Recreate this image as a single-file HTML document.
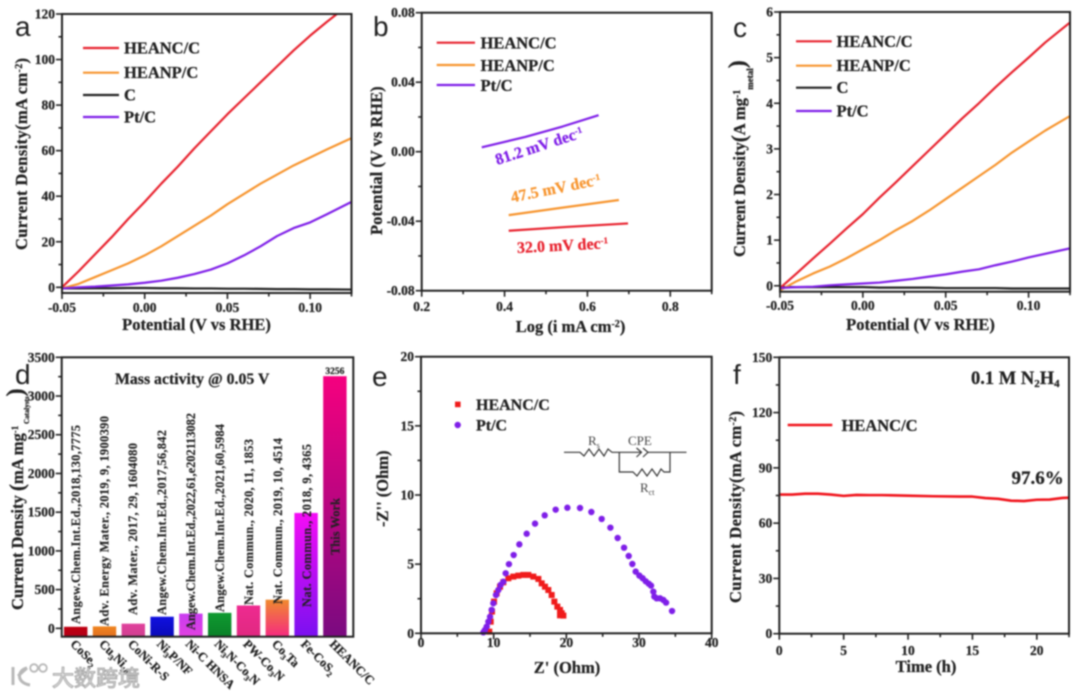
<!DOCTYPE html>
<html lang="en">
<head>
<meta charset="utf-8">
<title>HEANC/C electrocatalysis figure</title>
<style>
html,body{margin:0;padding:0;background:#fff;}
body{width:1080px;height:695px;overflow:hidden;}
#fig{display:block;filter:blur(0.7px);font-family:"Liberation Serif","Noto Serif CJK SC",serif;}
#fig text{font-weight:bold;fill:#222;stroke:#222;stroke-width:0.25px;}
#fig .tick{font-size:13.5px;}
#fig .title{font-size:16.5px;}
#fig .legend{font-size:16.5px;}
#fig .letter{font-family:"Liberation Sans",sans-serif;font-weight:normal;font-size:28px;stroke-width:0;}
#fig .cite{font-size:12.5px;stroke-width:0.15px;}
#fig .cat{font-size:12.5px;}
#fig .circ{font-weight:normal;font-size:13px;fill:#444;stroke-width:0;}
</style>
</head>
<body>
<svg id="fig" width="1080" height="695" viewBox="0 0 1080 695" xmlns="http://www.w3.org/2000/svg">
  <defs id="defs"></defs>
  <rect x="0" y="0" width="1080" height="695" fill="#fff"/>
  <g id="marks"></g>

  <!-- panel letters -->
  <text class="letter" x="15" y="36">a</text>
  <text class="letter" x="373" y="36">b</text>
  <text class="letter" x="733" y="37">c</text>
  <text class="letter" x="15" y="384">d</text>
  <text class="letter" x="372" y="386">e</text>
  <text class="letter" x="733" y="384">f</text>

  <!-- axis titles -->
  <text class="title" x="196.5" y="330" text-anchor="middle">Potential (V vs RHE)</text>
  <text class="title" transform="translate(27,250) rotate(-90)" letter-spacing="0.35">Current Density(mA cm<tspan font-size="10" dy="-5">-2</tspan><tspan dy="5">)</tspan></text>

  <text class="title" x="570.5" y="332" text-anchor="middle">Log (i mA cm<tspan font-size="10" dy="-5">-2</tspan><tspan dy="5">)</tspan></text>
  <text class="title" transform="translate(382,235) rotate(-90)">Potential (V vs RHE)</text>

  <text class="title" x="920.5" y="330" text-anchor="middle">Potential (V vs RHE)</text>
  <text class="title" transform="translate(745,257) rotate(-90)">Current Density<tspan font-size="21" dy="1">(</tspan><tspan dy="-1">A mg</tspan><tspan font-size="10" dy="-5">-1</tspan><tspan font-size="9" dy="13">metal</tspan><tspan font-size="24" dy="-8">)</tspan></text>

  <text class="title" transform="translate(23,610) rotate(-90)">Current Density <tspan font-size="21" dy="1">(</tspan><tspan dy="-1">mA mg</tspan><tspan font-size="9" dy="-5">-1</tspan><tspan font-size="7" dy="11"> Catalysts</tspan><tspan font-size="24" dy="-6">)</tspan></text>

  <text class="title" x="567" y="673" text-anchor="middle">Z' (Ohm)</text>
  <text class="title" transform="translate(388,527) rotate(-90)">-Z'' (Ohm)</text>

  <text class="title" x="926" y="672" text-anchor="middle">Time (h)</text>
  <text class="title" transform="translate(741,603) rotate(-90)" letter-spacing="0.35">Current Density(mA cm<tspan font-size="10" dy="-5">-2</tspan><tspan dy="5">)</tspan></text>

  <!-- legends -->
  <g>
    <line x1="83" y1="48" x2="119" y2="48" stroke="#e8232f" stroke-width="2.2"/>
    <text class="legend" x="124" y="53.5">HEANC/C</text>
    <line x1="83" y1="72.7" x2="119" y2="72.7" stroke="#f7952f" stroke-width="2.2"/>
    <text class="legend" x="124" y="78">HEANP/C</text>
    <line x1="83" y1="95" x2="119" y2="95" stroke="#222" stroke-width="2.2"/>
    <text class="legend" x="124" y="100.5">C</text>
    <line x1="83" y1="117" x2="119" y2="117" stroke="#7f1fe8" stroke-width="2.2"/>
    <text class="legend" x="124" y="122.5">Pt/C</text>
  </g>
  <g>
    <line x1="436.7" y1="42.7" x2="475" y2="42.7" stroke="#e8232f" stroke-width="2.2"/>
    <text class="legend" x="480.5" y="48.5">HEANC/C</text>
    <line x1="436.7" y1="65" x2="475" y2="65" stroke="#f7952f" stroke-width="2.2"/>
    <text class="legend" x="480.5" y="71">HEANP/C</text>
    <line x1="436.7" y1="85" x2="475" y2="85" stroke="#7f1fe8" stroke-width="2.2"/>
    <text class="legend" x="480.5" y="91">Pt/C</text>
  </g>
  <g>
    <line x1="796" y1="41.3" x2="831.7" y2="41.3" stroke="#e8232f" stroke-width="2.2"/>
    <text class="legend" x="836.5" y="47">HEANC/C</text>
    <line x1="796" y1="65.7" x2="831.7" y2="65.7" stroke="#f7952f" stroke-width="2.2"/>
    <text class="legend" x="836.5" y="71">HEANP/C</text>
    <line x1="796" y1="87.7" x2="831.7" y2="87.7" stroke="#222" stroke-width="2.2"/>
    <text class="legend" x="836.5" y="93">C</text>
    <line x1="796" y1="111" x2="831.7" y2="111" stroke="#7f1fe8" stroke-width="2.2"/>
    <text class="legend" x="836.5" y="116.5">Pt/C</text>
  </g>
  <g>
    <rect x="455" y="401.6" width="5.6" height="5.6" fill="#f01b1b"/>
    <text class="legend" x="476" y="410" style="font-size:16px">HEANC/C</text>
    <circle cx="457.7" cy="425" r="3.2" fill="#7f1fe8"/>
    <text class="legend" x="476" y="430.5" style="font-size:16px">Pt/C</text>
  </g>
  <g>
    <line x1="787.7" y1="425" x2="832.3" y2="425" stroke="#f0141c" stroke-width="2.6"/>
    <text class="legend" x="841.5" y="431">HEANC/C</text>
  </g>

  <!-- panel b slope annotations -->
  <text transform="translate(517.3,253) rotate(-3)" font-size="16" style="fill:#e8232f;stroke:#e8232f">32.0 mV dec<tspan font-size="9" dy="-5">-1</tspan></text>
  <text transform="translate(512,202.5) rotate(-11.5)" font-size="16" style="fill:#f7952f;stroke:#f7952f">47.5 mV dec<tspan font-size="9" dy="-5">-1</tspan></text>
  <text transform="translate(497.3,165) rotate(-18)" font-size="16" style="fill:#7f1fe8;stroke:#7f1fe8">81.2 mV dec<tspan font-size="9" dy="-5">-1</tspan></text>

  <!-- panel d static labels -->
  <text x="115" y="384" font-size="15.8">Mass activity @ 0.05 V</text>
  <g>
    <text class="cite" transform="translate(80,624) rotate(-90)" textLength="199">Angew.Chem.Int.Ed.,2018,130,7775</text>
    <text class="cite" transform="translate(108.5,626) rotate(-90)" textLength="210">Adv. Energy Mater., 2019, 9, 1900390</text>
    <text class="cite" transform="translate(137,615) rotate(-90)" textLength="172">Adv. Mater., 2017, 29, 1604080</text>
    <text class="cite" transform="translate(166,615) rotate(-90)" textLength="185">Angew.Chem.Int.Ed.,2017,56,842</text>
    <text class="cite" transform="translate(195,630) rotate(-90)" textLength="217">Angew.Chem.Int.Ed.,2022,61,e202113082</text>
    <text class="cite" transform="translate(224,612) rotate(-90)" textLength="188">Angew.Chem.Int.Ed.,2021,60,5984</text>
    <text class="cite" transform="translate(253,605) rotate(-90)" textLength="166">Nat. Commun., 2020, 11, 1853</text>
    <text class="cite" transform="translate(282,604) rotate(-90)" textLength="166">Nat. Commun., 2019, 10, 4514</text>
    <text class="cite" transform="translate(311,607) rotate(-90)" textLength="163">Nat. Commun., 2018,  9, 4365</text>
    <text class="cite" transform="translate(339.5,555) rotate(-90)" textLength="57">This Work</text>
  </g>

  <!-- panel e equivalent circuit -->
  <g fill="none" stroke="#333" stroke-width="1.2">
    <polyline points="564,452.3 580,452.3 584,456 589,449 594,456 599,449 604,456 608,449 612,452.3 641,452.3"/>
    <polyline points="636.5,448 641.5,452.3 636.5,457"/>
    <polyline points="643,448 648,452.3 643,457"/>
    <polyline points="648,452.3 686.5,452.3"/>
    <polyline points="619.3,452.3 619.3,472 633,472 637,476 642,469 647,476 652,469 657,476 661,469 664,472 670,472 670,452.3"/>
  </g>
  <text class="circ" x="588" y="445">R<tspan font-size="8" dy="3">s</tspan></text>
  <text class="circ" x="628" y="445">CPE</text>
  <text class="circ" x="640" y="492">R<tspan font-size="8" dy="3">ct</tspan></text>

  <!-- panel f annotations -->
  <text x="971" y="384" font-size="18.5">0.1 M N<tspan font-size="11" dy="3">2</tspan><tspan dy="-3">H</tspan><tspan font-size="11" dy="3">4</tspan></text>
  <text x="1011.5" y="484" font-size="19">97.6%</text>

  <!-- watermark -->
  <g>
    <path d="M13 667 V685 M27 668 C17 670 16 683 30 685 M18 676 L27 668" fill="none" stroke="#b8b8b8" stroke-width="3"/>
    <circle cx="34" cy="668" r="3.8" fill="#fff" stroke="#b8b8b8" stroke-width="1.8"/>
    <circle cx="43" cy="668" r="3.8" fill="#fff" stroke="#b8b8b8" stroke-width="1.8"/>
    <text x="52" y="686" font-size="22" style="font-family:'Liberation Sans','Noto Sans CJK SC',sans-serif;font-weight:normal;fill:#efefef;stroke:#a8a8a8;stroke-width:1">大数跨境</text>
  </g>
</svg>

<script>
/* ---------- panel a data ---------- */
const potential = [-0.05,-0.04,-0.03,-0.02,-0.01,0,0.01,0.02,0.03,0.04,0.05,0.06,0.07,0.08,0.09,0.10,0.11,0.125];
const aHeanc = [0,7,14.5,22,30,37.5,45.5,53,61,68.5,76,83,90,97,104,110.5,116.5,125];
const aHeanp = [-0.5,1.5,4.5,7.5,10.5,14,18,22.5,27,31.5,36.5,41,45.5,49.5,53.5,57,60.5,65.5];
const aCarbon = [-0.5,-0.5,-0.4,-0.4,-0.3,-0.3,-0.4,-0.4,-0.5,-0.5,-0.6,-0.6,-0.7,-0.8,-0.8,-0.9,-0.9,-1];
const aPt = [-0.5,0,0.3,0.8,1.3,2,2.9,4.2,5.8,7.8,10.5,14,18,22.5,26,28.5,32,37.5];
const aXTicks = ['-0.05','0.00','0.05','0.10'];
const aYTicks = ['0','20','40','60','80','100','120'];

/* ---------- panel b data ---------- */
const bHeancX = [0.41,0.55,0.698];
const bHeancY = [-0.0455,-0.0433,-0.0413];
const bHeanpX = [0.41,0.54,0.676];
const bHeanpY = [-0.0365,-0.0322,-0.0278];
const bPtX = [0.345,0.45,0.54,0.627];
const bPtY = [0.0025,0.0085,0.0145,0.021];
const bXTicks = ['0.2','0.4','0.6','0.8'];
const bYTicks = ['-0.08','-0.04','0.00','0.04','0.08'];

/* ---------- panel c data ---------- */
const cHeanc = [-0.05,0.27,0.6,0.92,1.25,1.57,1.93,2.27,2.62,2.97,3.32,3.67,4.0,4.35,4.68,5.0,5.33,5.77];
const cHeanp = [-0.1,0.1,0.27,0.42,0.6,0.8,1.0,1.22,1.42,1.65,1.9,2.15,2.4,2.65,2.92,3.16,3.4,3.72];
const cCarbon = [-0.03,-0.03,-0.03,-0.03,-0.03,-0.03,-0.04,-0.04,-0.04,-0.04,-0.05,-0.05,-0.05,-0.05,-0.06,-0.06,-0.06,-0.06];
const cPt = [-0.05,-0.03,-0.02,0.01,0.03,0.05,0.07,0.11,0.15,0.2,0.25,0.31,0.36,0.45,0.53,0.62,0.7,0.82];
const cXTicks = ['-0.05','0.00','0.05','0.10'];
const cYTicks = ['0','1','2','3','4','5','6'];

/* ---------- panel d data ---------- */
const dCategories = ['CoSe_2','Cu_3Ni_10','CoNi-R-S','Ni_3P/NF','Ni-C HNSA','Ni_3N-Co_3N','PW-Co_3N','Co_3Ta','Fe-CoS_2','HEANC/C'];
const dValues = [20,25,60,150,190,200,295,370,1490,3256];
const dPrinted = ['3256'];
const dYTicks = ['0','500','1000','1500','2000','2500','3000','3500'];
const dBarColorsTop = ['#c00010','#f0851f','#e0409c','#1010e0','#c93cf0','#0f9a30','#ee2a90','#f08a2e','#f50cf5','#f5007f'];
const dBarColorsBottom = ['#b00018','#e07020','#d04090','#0a0ab8','#e040e0','#0a8028','#e02880','#f52a80','#7a10f0','#7a0a80'];

/* ---------- panel e data ---------- */
const eHeancX = [9.4,9.59,9.77,10.05,10.41,10.87,11.33,12.02,12.71,13.39,14.08,14.77,15.46,16.15,16.61,17.06,17.52,17.98,18.35,18.76,19.13,19.36,19.59,19.13];
const eHeancY = [0.12,0.84,1.57,2.29,2.89,3.37,3.69,3.98,4.1,4.17,4.22,4.22,4.1,3.93,3.61,3.37,3.13,2.77,2.29,1.93,1.69,1.45,1.28,1.3];
const ePtX = [8.58,8.8,9.04,9.27,9.5,9.72,9.95,10.32,10.64,10.96,11.33,11.65,12.1,12.75,13.53,14.54,15.69,17.02,18.53,20.14,21.88,23.44,24.86,26.06,27.06,27.94,28.58,29.08,29.54,30.05,30.5,30.92,31.33,31.65,31.97,32.11,32.43,32.89,33.35,33.72,34.54];
const ePtY = [0.07,0.24,0.48,0.84,1.2,1.69,2.17,2.77,3.13,3.5,3.73,4.34,5.0,5.66,6.43,7.2,7.93,8.53,8.94,9.08,9.06,8.77,8.27,7.64,6.89,6.19,5.59,5.01,4.46,4.17,3.98,3.76,3.59,3.45,3.01,2.65,2.53,2.53,2.41,2.22,1.61];
const eXTicks = ['0','10','20','30','40'];
const eYTicks = ['0','5','10','15','20'];

/* ---------- panel f data ---------- */
const fTime = [0,1,2,3,4,5,6,7,8,10,12,14,15,16,17,18,19,20,21,22,22.5];
const fCurrent = [75.5,75.5,76,76,75.5,74.8,75.3,75.2,75.2,74.9,74.6,74.4,74.4,73.6,73.2,72.2,72,72.7,72.8,73.7,73.8];
const fXTicks = ['0','5','10','15','20'];
const fYTicks = ['0','30','60','90','120','150'];

/* ---------- drawing ---------- */
const NS = 'http://www.w3.org/2000/svg';
const marksLayer = document.getElementById('marks');
const defsEl = document.getElementById('defs');

function mk(tag, attrs, parent) {
  const el = document.createElementNS(NS, tag);
  for (const k in attrs) el.setAttribute(k, attrs[k]);
  (parent || marksLayer).appendChild(el);
  return el;
}
function scale(d0, d1, r0, r1) {
  return v => r0 + (v - d0) * (r1 - r0) / (d1 - d0);
}
function makePanel(id, l, r, t, b, xmin, xmax, ymin, ymax) {
  const clip = mk('clipPath', {id: 'clip-' + id}, defsEl);
  mk('rect', {x: l, y: t, width: r - l, height: b - t}, clip);
  return {id, l, r, t, b, x: scale(xmin, xmax, l, r), y: scale(ymin, ymax, b, t), xmin, xmax, ymin, ymax};
}
function tickRange(min, max, step) {
  const out = [];
  const first = Math.ceil(min / step - 1e-6);
  for (let i = first; i * step <= max + 1e-6; i++) out.push(i * step);
  return out;
}
function drawAxes(p, xStep, xMinor, xLabels, yStep, yMinor, yLabels, xLabelY) {
  const frame = mk('rect', {x: p.l, y: p.t, width: p.r - p.l, height: p.b - p.t, fill: 'none', stroke: '#222', 'stroke-width': 2});
  
  
  if (xStep) {
    tickRange(p.xmin, p.xmax, xMinor).forEach(v => {
      const major = Math.abs(v / xStep - Math.round(v / xStep)) < 1e-6;
      const tick = mk('line', {x1: p.x(v), x2: p.x(v), y1: p.b, y2: p.b + (major ? 6 : 3.5), stroke: '#222', 'stroke-width': 1.6});
      
      
    });
    xLabels.forEach(s => {
      const label = mk('text', {class: 'tick', x: p.x(parseFloat(s)), y: xLabelY, 'text-anchor': 'middle'});
      
      
      label.textContent = s;
    });
  }
  tickRange(p.ymin, p.ymax, yMinor).forEach(v => {
    const major = Math.abs(v / yStep - Math.round(v / yStep)) < 1e-6;
    const tick = mk('line', {x1: p.l - (major ? 6 : 3.5), x2: p.l, y1: p.y(v), y2: p.y(v), stroke: '#222', 'stroke-width': 1.6});
    
    
  });
  yLabels.forEach(s => {
    const label = mk('text', {class: 'tick', x: p.l - 7, y: p.y(parseFloat(s)) + 4.5, 'text-anchor': 'end'});
    
    
    label.textContent = s;
  });
}
function linePath(p, xs, ys) {
  return xs.map((x, i) => (i ? 'L' : 'M') + p.x(x).toFixed(2) + ' ' + p.y(ys[i]).toFixed(2)).join(' ');
}
function drawLine(p, xs, ys, color, width) {
  return mk('path', {d: linePath(p, xs, ys), fill: 'none', stroke: color, 'stroke-width': width, 'stroke-linejoin': 'round', 'clip-path': 'url(#clip-' + p.id + ')'});
}

const RED = '#e8232f', ORANGE = '#f7952f', PURPLE = '#7f1fe8', BLACK = '#222';

/* panel a */
const pa = makePanel('a', 62, 351.5, 14, 293, -0.05, 0.125, -2.5, 120);
const aL1 = drawLine(pa, potential, aCarbon, BLACK, 2.2);


const aL2 = drawLine(pa, potential, aHeanc, RED, 2.2);


const aL3 = drawLine(pa, potential, aHeanp, ORANGE, 2.2);


const aL4 = drawLine(pa, potential, aPt, PURPLE, 2.2);


drawAxes(pa, 0.05, 0.025, aXTicks, 20, 10, aYTicks, 312);

/* panel b */
const pb = makePanel('b', 421.7, 711.7, 12.7, 290.7, 0.2, 0.9, -0.08, 0.08);
const bL1 = drawLine(pb, bHeancX, bHeancY, RED, 2.2);


const bL2 = drawLine(pb, bHeanpX, bHeanpY, ORANGE, 2.2);


const bL3 = drawLine(pb, bPtX, bPtY, PURPLE, 2.2);


drawAxes(pb, 0.2, 0.1, bXTicks, 0.04, 0.02, bYTicks, 311);

/* panel c */
const pc = makePanel('c', 780, 1070, 12, 291.7, -0.05, 0.125, -0.13, 6);
const cL1 = drawLine(pc, potential, cCarbon, BLACK, 2.2);


const cL2 = drawLine(pc, potential, cHeanc, RED, 2.2);


const cL3 = drawLine(pc, potential, cHeanp, ORANGE, 2.2);


const cL4 = drawLine(pc, potential, cPt, PURPLE, 2.2);


drawAxes(pc, 0.05, 0.025, cXTicks, 1, 0.5, cYTicks, 310);

/* panel d */
const pd = makePanel('d', 61.7, 353.3, 357.3, 636.7, 0, 10.125, -108, 3500);
dCategories.forEach((name, i) => {
  const grad = mk('linearGradient', {id: 'bar-grad-' + i, x1: 0, y1: 0, x2: 0, y2: 1}, defsEl);
  mk('stop', {offset: '0', 'stop-color': dBarColorsTop[i]}, grad);
  mk('stop', {offset: '1', 'stop-color': dBarColorsBottom[i]}, grad);
  const cx = pd.x(i + 0.486);
  const top = pd.y(dValues[i]);
  const bar = mk('rect', {x: cx - 11.7, y: top, width: 23.4, height: pd.b - top, fill: 'url(#bar-grad-' + i + ')'});
  
  
  const label = mk('text', {class: 'cat', transform: 'translate(' + (cx - 6) + ',' + (pd.b + 8) + ') rotate(45)'});
  
  
  name.split('_').forEach((part, j) => {
    if (j === 0) {
      mk('tspan', {}, label).textContent = part;
    } else {
      const m = part.match(/^(\d+)(.*)$/);
      mk('tspan', {'font-size': 8, dy: 3}, label).textContent = m[1];
      mk('tspan', {dy: -3}, label).textContent = m[2] || '\u200b';
    }
  });
});
const dTop = mk('text', {x: pd.x(9.486), y: pd.y(dValues[9]) - 2, 'text-anchor': 'middle', 'font-size': 9.5});


dTop.textContent = dPrinted[0];
drawAxes(pd, 0, 0, [], 500, 250, dYTicks, 0);

/* panel e */
const pe = makePanel('e', 421, 711.7, 356.7, 633.3, 0, 40, 0, 20);
eHeancX.forEach((x, i) => {
  const s = mk('rect', {x: pe.x(x) - 3, y: pe.y(eHeancY[i]) - 3, width: 6, height: 6, fill: '#f01b1b'});
  
  
});
ePtX.forEach((x, i) => {
  const c = mk('circle', {cx: pe.x(x), cy: pe.y(ePtY[i]), r: 3.2, fill: PURPLE});
  
  
});
drawAxes(pe, 10, 5, eXTicks, 5, 2.5, eYTicks, 647);

/* panel f */
const pf = makePanel('f', 779.3, 1069, 357.3, 633.7, 0, 22.5, 0, 150);
const fL = drawLine(pf, fTime, fCurrent, '#f0141c', 2.6);


drawAxes(pf, 5, 2.5, fXTicks, 30, 15, fYTicks, 655);
</script>
</body>
</html>
